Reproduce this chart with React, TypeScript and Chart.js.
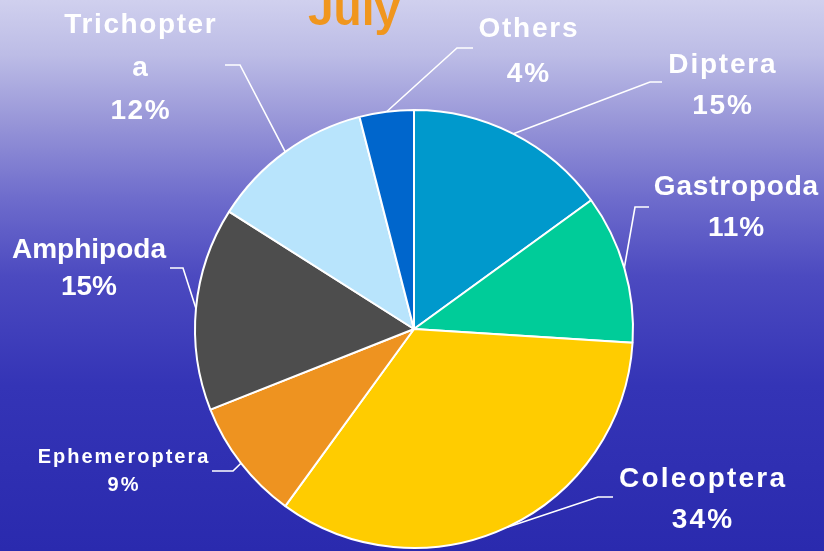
import React, { useEffect, useRef } from "react";
import { Chart, registerables } from "chart.js";

Chart.register(...registerables);

// ---- Data ----
const title = "July";
const categories = ["Diptera", "Gastropoda", "Coleoptera", "Ephemeroptera", "Amphipoda", "Trichoptera", "Others"];
const percentages = [15, 11, 34, 9, 15, 12, 4];
const sliceColors = ["#0099cc", "#00cc99", "#ffcc00", "#ee9320", "#4d4d4d", "#b8e4fc", "#0066cc"];

// ---- Label layout (annotation placement, not data) ----
type LabelLayout = {
  cx: number; // text centre x
  y: number; // first baseline
  lh: number; // line height
  size: number;
  spacing: number;
  wrapAt?: number;
  elbow: [number, number];
  endX: number;
};
const labelLayout: LabelLayout[] = [
  { cx: 722, y: 73, lh: 41, size: 28, spacing: 1.8, elbow: [650, 82], endX: 662 },
  { cx: 736, y: 195, lh: 41, size: 28, spacing: 0.8, elbow: [635, 207], endX: 649 },
  { cx: 702, y: 487, lh: 41, size: 28, spacing: 2.2, elbow: [598, 497], endX: 613 },
  { cx: 123, y: 463, lh: 28, size: 20, spacing: 2, elbow: [233, 471], endX: 212 },
  { cx: 89, y: 258, lh: 37, size: 28, spacing: 0, elbow: [183, 268], endX: 170 },
  { cx: 140, y: 33, lh: 43, size: 28, spacing: 1.6, wrapAt: 10, elbow: [240, 65], endX: 225 },
  { cx: 528, y: 37, lh: 45, size: 28, spacing: 1.8, elbow: [457, 48], endX: 473 },
];

const FONT = '"Liberation Sans", Arial, sans-serif';

const backgroundPlugin = {
  id: "bgGradient",
  beforeDraw(chart: any) {
    const { ctx, width, height } = chart;
    ctx.save();
    const g = ctx.createLinearGradient(0, 0, 0, height);
    g.addColorStop(0, "#d0d0ee");
    g.addColorStop(0.1, "#bcbce6");
    g.addColorStop(0.22, "#9896d8");
    g.addColorStop(0.36, "#6e6ccc");
    g.addColorStop(0.5, "#4c4ac0");
    g.addColorStop(0.7, "#3434b6");
    g.addColorStop(1, "#2a2aae");
    ctx.fillStyle = g;
    ctx.fillRect(0, 0, width, height);
    ctx.restore();
  },
};

const labelsPlugin = {
  id: "pieLabels",
  afterDraw(chart: any) {
    const { ctx } = chart;
    const meta = chart.getDatasetMeta(0);
    ctx.save();
    // title
    ctx.fillStyle = "#f0961e";
    ctx.font = `bold 46px ${FONT}`;
    ctx.textAlign = "center";
    ctx.textBaseline = "alphabetic";
    ctx.fillText(title, 354, 25);

    meta.data.forEach((arc: any, i: number) => {
      const L = labelLayout[i];
      const mid = (arc.startAngle + arc.endAngle) / 2;
      const px = arc.x + Math.cos(mid) * arc.outerRadius;
      const py = arc.y + Math.sin(mid) * arc.outerRadius;
      ctx.strokeStyle = "#ffffff";
      ctx.lineWidth = 1.6;
      ctx.beginPath();
      ctx.moveTo(px, py);
      ctx.lineTo(L.elbow[0], L.elbow[1]);
      ctx.lineTo(L.endX, L.elbow[1]);
      ctx.stroke();

      const name = categories[i];
      const lines =
        L.wrapAt !== undefined ? [name.slice(0, L.wrapAt), name.slice(L.wrapAt)] : [name];
      lines.push(`${percentages[i]}%`);
      ctx.fillStyle = "#ffffff";
      ctx.font = `bold ${L.size}px ${FONT}`;
      (ctx as any).letterSpacing = `${L.spacing}px`;
      ctx.textAlign = "center";
      lines.forEach((t, k) => {
        ctx.fillText(t, L.cx + L.spacing / 2, L.y + k * L.lh);
      });
      (ctx as any).letterSpacing = "0px";
    });
    ctx.restore();
  },
};

export default function App() {
  const ref = useRef<HTMLCanvasElement | null>(null);
  useEffect(() => {
    document.body.style.margin = "0";
    const canvas = ref.current!;
    const chart = new Chart(canvas, {
      type: "pie",
      data: {
        labels: categories,
        datasets: [
          {
            data: percentages,
            backgroundColor: sliceColors,
            borderColor: "#ffffff",
            borderWidth: 2,
          },
        ],
      },
      options: {
        responsive: false,
        animation: false,
        devicePixelRatio: 1,
        layout: { padding: { left: 194, right: 190, top: 109, bottom: 2 } },
        plugins: {
          legend: { display: false },
          tooltip: { enabled: false },
          title: { display: false },
        },
      },
      plugins: [backgroundPlugin, labelsPlugin],
    });
    return () => chart.destroy();
  }, []);
  return (
    <div style={{ position: "absolute", left: 0, top: 0, width: 824, height: 551 }}>
      <canvas ref={ref} width={824} height={551} style={{ display: "block" }} />
    </div>
  );
}
